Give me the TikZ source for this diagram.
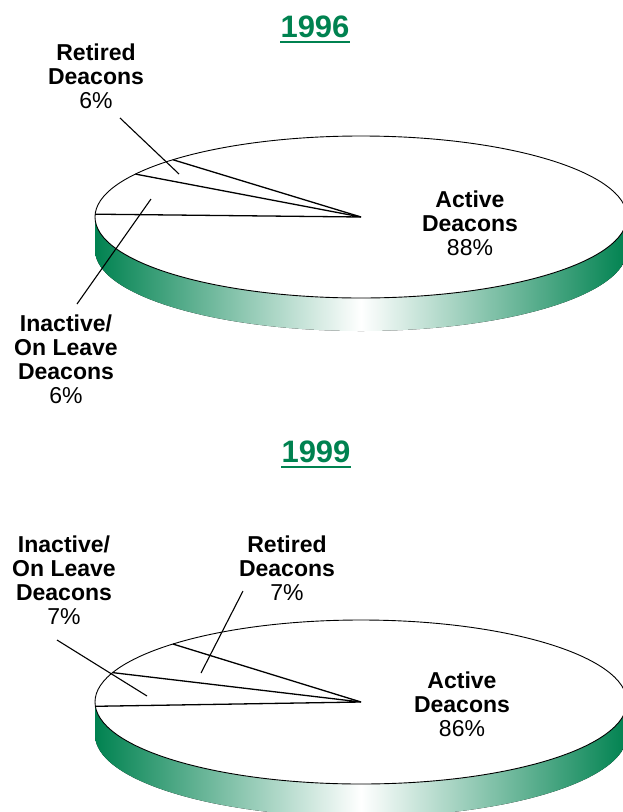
\documentclass[tikz,border=0pt]{standalone}
\usepackage{fontspec}
\setmainfont{Liberation Sans}
\usepackage{tikz}
\usetikzlibrary{positioning}
\definecolor{piegreen}{RGB}{0,130,80}

\begin{document}
\begin{tikzpicture}[x=1pt, y=-1pt,
      yeartitle/.style={font=\fontsize{31}{31}\selectfont\bfseries, text=piegreen, inner sep=0pt},
      underl/.style={draw=piegreen, line width=2.5pt},
      pielabel/.style={font=\fontsize{23}{24}\selectfont\bfseries, align=center, inner sep=0pt},
      pietop/.style={draw=black, line width=0.9pt, fill=white},
      pieside/.style={left color=piegreen, right color=piegreen, middle color=white},
      sliceline/.style={line width=1.3pt},
      leader/.style={line width=1.1pt}
    ]
      \useasboundingbox (0,0) rectangle (623,812);

      % 1996 title
      \node[yeartitle] (t96) at (315,27) {1996};
      \draw[underl] ([yshift=-4pt]t96.south west) -- ([yshift=-4pt]t96.south east);

      % 1996 pie
      \coordinate (c96) at (361,217);
      \fill[pieside] (c96) ++(180:266pt and 81pt) arc[start angle=180, end angle=360, x radius=266pt, y radius=81pt]
        -- ++(0,33) arc[start angle=360, end angle=180, x radius=266pt, y radius=81pt] -- cycle;
      \draw[pietop] (c96) ellipse [x radius=266pt, y radius=81pt];
      \path (c96) ++(178:266pt and 81pt) coordinate (r96a)
            (c96) ++(148:266pt and 81pt) coordinate (r96b)
            (c96) ++(135:266pt and 81pt) coordinate (r96c);
      \draw[sliceline] (r96a) -- (c96) -- (r96b);
      \draw[sliceline] (c96) -- (r96c);

      % 1996 labels
      \node[pielabel] (ret96) at (96,76) {Retired\\Deacons\\{\mdseries 6\%}};
      \node[pielabel] (inact96) at (66,359) {Inactive/\\On Leave\\Deacons\\{\mdseries 6\%}};
      \node[pielabel] (act96) at (470,223) {Active\\Deacons\\{\mdseries 88\%}};
      \coordinate (ret96a) at (120,118);
      \coordinate (ret96b) at (179,174);
      \coordinate (inact96a) at (77,304);
      \coordinate (inact96b) at (151,199);
      \draw[leader] (ret96a) -- (ret96b);
      \draw[leader] (inact96a) -- (inact96b);

      % 1999 title
      \node[yeartitle] (t99) at (316,452) {1999};
      \draw[underl] ([yshift=-4pt]t99.south west) -- ([yshift=-4pt]t99.south east);

      % 1999 pie
      \coordinate (c99) at (361,702);
      \fill[pieside] (c99) ++(180:266pt and 82pt) arc[start angle=180, end angle=360, x radius=266pt, y radius=82pt]
        -- ++(0,33) arc[start angle=360, end angle=180, x radius=266pt, y radius=82pt] -- cycle;
      \draw[pietop] (c99) ellipse [x radius=266pt, y radius=82pt];
      \path (c99) ++(183:266pt and 82pt) coordinate (r99a)
            (c99) ++(159:266pt and 82pt) coordinate (r99b)
            (c99) ++(135:266pt and 82pt) coordinate (r99c);
      \draw[sliceline] (r99a) -- (c99) -- (r99b);
      \draw[sliceline] (c99) -- (r99c);

      % 1999 labels
      \node[pielabel] (inact99) at (64,580) {Inactive/\\On Leave\\Deacons\\{\mdseries 7\%}};
      \node[pielabel] (ret99) at (287,568) {Retired\\Deacons\\{\mdseries 7\%}};
      \node[pielabel] (act99) at (462,704) {Active\\Deacons\\{\mdseries 86\%}};
      \coordinate (inact99a) at (57,640);
      \coordinate (inact99b) at (147,696);
      \coordinate (ret99a) at (243,591);
      \coordinate (ret99b) at (201,673);
      \draw[leader] (inact99a) -- (inact99b);
      \draw[leader] (ret99a) -- (ret99b);
    \end{tikzpicture}
\end{document}
